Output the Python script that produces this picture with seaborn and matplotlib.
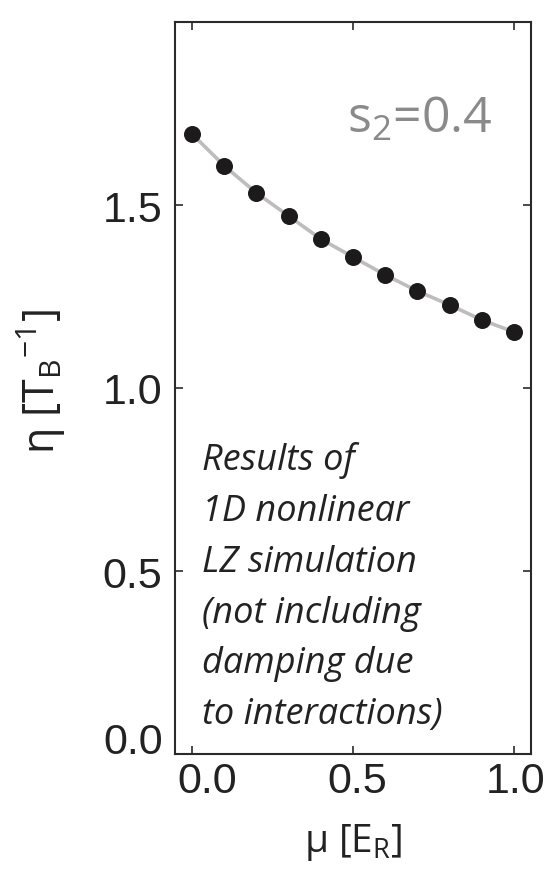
import matplotlib
matplotlib.use("Agg")
import matplotlib.pyplot as plt
import matplotlib.transforms as mtransforms
import seaborn as sns
import pandas as pd

mu = [0.0, 0.1, 0.2, 0.3, 0.4, 0.5, 0.6, 0.7, 0.8, 0.9, 1.0]
eta = [1.694, 1.607, 1.533, 1.470, 1.407, 1.358, 1.309, 1.265, 1.227, 1.186, 1.153]
xticks = [0.0, 0.5, 1.0]
yticks = [0.0, 0.5, 1.0, 1.5]
xtick_labels = ["0.0", "0.5", "1.0"]
ytick_labels = ["0.0", "0.5", "1.0", "1.5"]
annotation = "Results of\n1D nonlinear\nLZ simulation\n(not including\ndamping due\nto interactions)"

sns.set_theme(style="white")
plt.rcParams["font.family"] = ["Open Sans", "DejaVu Sans"]
plt.rcParams["mathtext.default"] = "regular"

df = pd.DataFrame({"mu": mu, "eta": eta})

fig = plt.figure(figsize=(5.48, 8.7), dpi=100)
ax = fig.add_axes([175/548, 1-755/870, 356/548, 732/870])

sns.lineplot(data=df, x="mu", y="eta", ax=ax, color="#bdbdbd", linewidth=2.6, zorder=2)
sns.scatterplot(data=df, x="mu", y="eta", ax=ax, color="#1c1a1b", s=150,
                edgecolor="#1c1a1b", linewidth=0, zorder=3)

ax.set_xlim(-0.053, 1.053)
ax.set_ylim(0.0, 2.0)
ax.set_xticks(xticks)
ax.set_xticklabels(xtick_labels)
ax.set_yticks(yticks)
ax.set_yticklabels(ytick_labels)

for s in ax.spines.values():
    s.set_visible(True)
    s.set_color("#2a2a2a")
    s.set_linewidth(1.5)

ax.tick_params(direction="in", length=6, width=1.2, color="#2a2a2a",
               top=True, right=True, left=True, bottom=True,
               labelsize=31, labelcolor="#222222")
ax.tick_params(axis="y", pad=9)
ax.tick_params(axis="x", pad=5)
for lab in ax.get_xticklabels() + ax.get_yticklabels():
    lab.set_fontfamily(["Liberation Sans", "DejaVu Sans"])

ax.set_xlabel(r"μ [E$_{R}$]", fontsize=28, color="#222222")
ax.set_ylabel(r"η [T$_{B}$$^{-1}$]", fontsize=31, color="#222222")
ax.xaxis.set_label_coords(0.5, -0.092)
ax.yaxis.set_label_coords(-0.30, 0.51)

ax.text(0.893, 0.85, r"s$_{2}$=0.4", transform=ax.transAxes, ha="right",
        va="baseline", fontsize=36, color="#8a8a8a")

ax.text((202-175)/356, (755-442)/732, annotation, transform=ax.transAxes,
        ha="left", va="top", fontsize=26, style="italic", color="#222222",
        linespacing=1.55)

fig.canvas.draw()
xt = ax.xaxis.get_major_ticks()
yt = ax.yaxis.get_major_ticks()
x_off = [15, 4, 2]
for t, dx in zip(xt, x_off):
    t.label1.set_transform(t.label1.get_transform() +
                           mtransforms.ScaledTranslation(dx/100, 0, fig.dpi_scale_trans))
yt[0].label1.set_transform(yt[0].label1.get_transform() +
                           mtransforms.ScaledTranslation(0, 16/100, fig.dpi_scale_trans))

fig.savefig("out.png", dpi=100)
